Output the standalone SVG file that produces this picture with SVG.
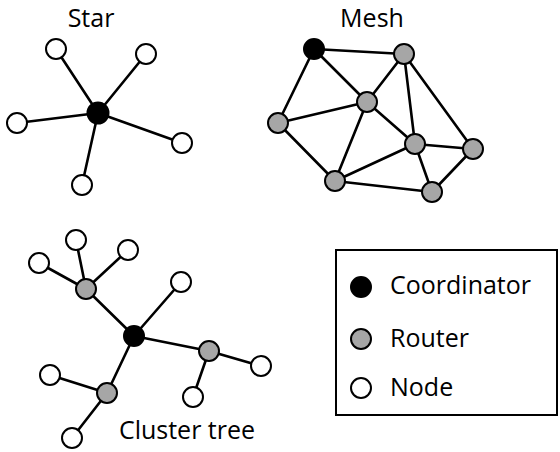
<svg xmlns="http://www.w3.org/2000/svg" width="560" height="452" viewBox="0 0 560 452">
<style>
.e{stroke:#000;stroke-width:2.6;fill:none}
.n{fill:#fff;stroke:#000;stroke-width:2}
.r{fill:#a6a6a6;stroke:#000;stroke-width:2}
.c{fill:#000;stroke:#000;stroke-width:2}
.t{font-family:"Open Sans","Liberation Sans",sans-serif;font-size:25px;fill:#000}
</style>
<rect width="560" height="452" fill="#fff"/>
<g id="connectors">
<!-- star -->
<path class="e" d="M98 113L56 49M98 113L146 54M98 113L17 123M98 113L182 143M98 113L82 185"/>
<!-- mesh -->
<path class="e" d="M314 49L404 54M314 49L367 102M314 49L278 123M278 123L367 102M367 102L404 54M404 54L415 144M404 54L473 149M367 102L415 144M367 102L335 181M278 123L335 181M335 181L415 144M335 181L432 192M415 144L473 149M415 144L432 192M432 192L473 149"/>
<!-- cluster tree -->
<path class="e" d="M86 289L76 240M86 289L128 250M86 289L39 263M86 289L134 336M134 336L181 282M134 336L209 351M209 351L261 366M209 351L193 397M134 336L107 393M107 393L50 375M107 393L72 438"/>
</g>
<g id="titles">
<text class="t" x="91" y="27" text-anchor="middle">Star</text>
<text class="t" x="372" y="27" text-anchor="middle">Mesh</text>
<text class="t" x="187" y="439" text-anchor="middle">Cluster tree</text>
</g>
<g id="star">
<circle class="c" cx="98" cy="113" r="10.5"/>
<circle class="n" cx="56" cy="49" r="10"/>
<circle class="n" cx="146" cy="54" r="10"/>
<circle class="n" cx="17" cy="123" r="10"/>
<circle class="n" cx="182" cy="143" r="10"/>
<circle class="n" cx="82" cy="185" r="10"/>
</g>
<g id="mesh">
<circle class="c" cx="314" cy="49" r="10"/>
<circle class="r" cx="404" cy="54" r="10"/>
<circle class="r" cx="367" cy="102" r="10"/>
<circle class="r" cx="278" cy="123" r="10"/>
<circle class="r" cx="415" cy="144" r="10"/>
<circle class="r" cx="473" cy="149" r="10"/>
<circle class="r" cx="335" cy="181" r="10"/>
<circle class="r" cx="432" cy="192" r="10"/>
</g>
<g id="cluster">
<circle class="c" cx="134" cy="336" r="10"/>
<circle class="r" cx="86" cy="289" r="10"/>
<circle class="r" cx="209" cy="351" r="10"/>
<circle class="r" cx="107" cy="393" r="10"/>
<circle class="n" cx="76" cy="240" r="10"/>
<circle class="n" cx="128" cy="250" r="10"/>
<circle class="n" cx="39" cy="263" r="10"/>
<circle class="n" cx="181" cy="282" r="10"/>
<circle class="n" cx="261" cy="366" r="10"/>
<circle class="n" cx="193" cy="397" r="10"/>
<circle class="n" cx="50" cy="375" r="10"/>
<circle class="n" cx="72" cy="438" r="10"/>
</g>
<g id="legend">
<rect x="336" y="250" width="221" height="165" fill="#fff" stroke="#000" stroke-width="2"/>
<circle class="c" cx="361" cy="287" r="10"/>
<text class="t" x="390" y="294">Coordinator</text>
<circle class="r" cx="361" cy="339" r="10"/>
<text class="t" x="390" y="347">Router</text>
<circle class="n" cx="361" cy="388" r="10"/>
<text class="t" x="390" y="396">Node</text>
</g>
</svg>
